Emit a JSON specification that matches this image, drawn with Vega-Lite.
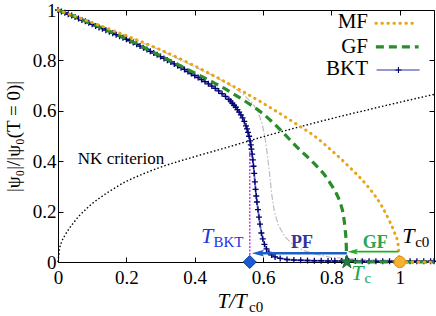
{
  "$schema": "https://vega.github.io/schema/vega-lite/v6.json",
  "width": 376,
  "height": 252,
  "autosize": {"type": "none"},
  "padding": {"left": 58, "top": 10, "right": 2, "bottom": 54},
  "background": "white",
  "config": {
    "view": {"stroke": null},
    "font": "Liberation Serif",
    "axis": {
      "grid": false,
      "domainColor": "black",
      "domainWidth": 1,
      "tickColor": "black",
      "tickSize": -5,
      "labelFont": "Liberation Serif",
      "labelFontSize": 19,
      "labelColor": "black",
      "titleFont": "Liberation Serif",
      "titleFontWeight": "normal",
      "titleColor": "black"
    }
  },
  "resolve": {"axis": {"x": "independent", "y": "independent"}},
  "layer": [
    {
      "data": {"values": [
        {"t": 0, "v": 1.0}, {"t": 0.1, "v": 0.95}, {"t": 0.2, "v": 0.897}, {"t": 0.3, "v": 0.84},
        {"t": 0.4, "v": 0.775}, {"t": 0.45, "v": 0.742}, {"t": 0.5, "v": 0.705}, {"t": 0.54, "v": 0.668},
        {"t": 0.57, "v": 0.628}, {"t": 0.585, "v": 0.595}, {"t": 0.597, "v": 0.55}, {"t": 0.606, "v": 0.49},
        {"t": 0.613, "v": 0.42}, {"t": 0.619, "v": 0.35}, {"t": 0.625, "v": 0.27}, {"t": 0.633, "v": 0.2},
        {"t": 0.645, "v": 0.145}, {"t": 0.664, "v": 0.1}, {"t": 0.69, "v": 0.065}, {"t": 0.72, "v": 0.045},
        {"t": 0.75, "v": 0.032}, {"t": 0.8, "v": 0.018}, {"t": 0.9, "v": 0.009}, {"t": 1.0, "v": 0.006}, {"t": 1.1, "v": 0.005}
      ]},
      "mark": {"type": "line", "color": "#bdbdbd", "strokeWidth": 1.2, "strokeDash": [6, 2, 1.5, 2]},
      "encoding": {
        "x": {"field": "t", "type": "quantitative", "scale": {"domain": [0, 1.1], "nice": false, "zero": false},
          "axis": {"orient": "bottom", "values": [0, 0.2, 0.4, 0.6, 0.8, 1], "format": ".1~f", "title": null, "labelPadding": 11, "labelFlush": false}},
        "y": {"field": "v", "type": "quantitative", "scale": {"domain": [0, 1], "nice": false},
          "axis": {"orient": "left", "values": [0, 0.2, 0.4, 0.6, 0.8, 1], "format": ".1~f", "labelPadding": 7, "labelFlush": false,
            "title": "|ψ₀|/|ψ₀(T = 0)|", "titleFontSize": 19, "titlePadding": 9}}
      }
    },
    {
      "data": {"values": [
        {"t": 0, "v": 0}, {"t": 0.005, "v": 0.055}, {"t": 0.01, "v": 0.078}, {"t": 0.02, "v": 0.105}, {"t": 0.03, "v": 0.127},
        {"t": 0.045, "v": 0.155}, {"t": 0.06, "v": 0.18}, {"t": 0.08, "v": 0.207}, {"t": 0.1, "v": 0.232},
        {"t": 0.125, "v": 0.257}, {"t": 0.15, "v": 0.28}, {"t": 0.2, "v": 0.32}, {"t": 0.25, "v": 0.35},
        {"t": 0.3, "v": 0.376}, {"t": 0.4, "v": 0.418}, {"t": 0.5, "v": 0.457}, {"t": 0.6, "v": 0.497},
        {"t": 0.7, "v": 0.534}, {"t": 0.8, "v": 0.569}, {"t": 0.9, "v": 0.602}, {"t": 1.0, "v": 0.634}, {"t": 1.1, "v": 0.665}
      ]},
      "mark": {"type": "line", "color": "black", "strokeWidth": 1.4, "strokeDash": [1.5, 2.2], "interpolate": "monotone"},
      "encoding": {
        "x": {"field": "t", "type": "quantitative", "scale": {"domain": [0, 1.1], "nice": false, "zero": false},
          "axis": {"orient": "top", "values": [0, 0.2, 0.4, 0.6, 0.8, 1], "labels": false, "title": null}},
        "y": {"field": "v", "type": "quantitative", "scale": {"domain": [0, 1], "nice": false},
          "axis": {"orient": "right", "values": [0, 0.2, 0.4, 0.6, 0.8, 1], "labels": false, "title": null}}
      }
    },
    {
      "data": {"values": [{"t": 0.561, "v0": 0, "v1": 0.488}]},
      "mark": {"type": "rule", "color": "#c040ff", "strokeWidth": 1.5, "strokeDash": [2, 1.5]},
      "encoding": {
        "x": {"field": "t", "type": "quantitative", "scale": {"domain": [0, 1.1], "nice": false, "zero": false}, "axis": null},
        "y": {"field": "v0", "type": "quantitative", "scale": {"domain": [0, 1], "nice": false}, "axis": null},
        "y2": {"field": "v1"}
      }
    },
    {
      "data": {"name": "bkt", "values": [
        {"t": 0.00, "v": 1.000}, {"t": 0.01, "v": 0.994}, {"t": 0.02, "v": 0.989}, {"t": 0.03, "v": 0.983},
        {"t": 0.04, "v": 0.978}, {"t": 0.05, "v": 0.972}, {"t": 0.06, "v": 0.966}, {"t": 0.07, "v": 0.960},
        {"t": 0.08, "v": 0.955}, {"t": 0.09, "v": 0.949}, {"t": 0.10, "v": 0.943}, {"t": 0.11, "v": 0.937},
        {"t": 0.12, "v": 0.931}, {"t": 0.13, "v": 0.926}, {"t": 0.14, "v": 0.920}, {"t": 0.15, "v": 0.914},
        {"t": 0.16, "v": 0.908}, {"t": 0.17, "v": 0.902}, {"t": 0.18, "v": 0.896}, {"t": 0.19, "v": 0.890},
        {"t": 0.20, "v": 0.884}, {"t": 0.21, "v": 0.878}, {"t": 0.22, "v": 0.871}, {"t": 0.23, "v": 0.864},
        {"t": 0.24, "v": 0.857}, {"t": 0.25, "v": 0.850}, {"t": 0.26, "v": 0.843}, {"t": 0.27, "v": 0.836},
        {"t": 0.28, "v": 0.829}, {"t": 0.29, "v": 0.822}, {"t": 0.30, "v": 0.815}, {"t": 0.31, "v": 0.808},
        {"t": 0.32, "v": 0.801}, {"t": 0.33, "v": 0.794}, {"t": 0.34, "v": 0.786}, {"t": 0.35, "v": 0.779},
        {"t": 0.36, "v": 0.771}, {"t": 0.37, "v": 0.764}, {"t": 0.38, "v": 0.756}, {"t": 0.39, "v": 0.748},
        {"t": 0.40, "v": 0.740}, {"t": 0.41, "v": 0.732}, {"t": 0.42, "v": 0.724}, {"t": 0.43, "v": 0.716},
        {"t": 0.44, "v": 0.707}, {"t": 0.45, "v": 0.698}, {"t": 0.46, "v": 0.689}, {"t": 0.47, "v": 0.679},
        {"t": 0.48, "v": 0.668}, {"t": 0.49, "v": 0.657}, {"t": 0.50, "v": 0.645}, {"t": 0.505, "v": 0.638},
        {"t": 0.51, "v": 0.630}, {"t": 0.515, "v": 0.622}, {"t": 0.52, "v": 0.614}, {"t": 0.525, "v": 0.605},
        {"t": 0.53, "v": 0.595}, {"t": 0.535, "v": 0.584}, {"t": 0.54, "v": 0.572}, {"t": 0.545, "v": 0.558},
        {"t": 0.55, "v": 0.540}, {"t": 0.553, "v": 0.528},
        {"t": 0.556, "v": 0.514}, {"t": 0.559, "v": 0.499}, {"t": 0.562, "v": 0.481}, {"t": 0.564, "v": 0.465},
        {"t": 0.566, "v": 0.448}, {"t": 0.568, "v": 0.428},
        {"t": 0.570, "v": 0.405}, {"t": 0.572, "v": 0.380}, {"t": 0.574, "v": 0.352}, {"t": 0.576, "v": 0.318},
        {"t": 0.578, "v": 0.288}, {"t": 0.580, "v": 0.262}, {"t": 0.582, "v": 0.238}, {"t": 0.585, "v": 0.208},
        {"t": 0.588, "v": 0.178}, {"t": 0.591, "v": 0.150}, {"t": 0.595, "v": 0.115}, {"t": 0.599, "v": 0.092},
        {"t": 0.604, "v": 0.070}, {"t": 0.610, "v": 0.052}, {"t": 0.617, "v": 0.038}, {"t": 0.625, "v": 0.028},
        {"t": 0.635, "v": 0.020}, {"t": 0.65, "v": 0.014}, {"t": 0.67, "v": 0.010}, {"t": 0.69, "v": 0.008},
        {"t": 0.71, "v": 0.007}, {"t": 0.73, "v": 0.006}, {"t": 0.75, "v": 0.005}, {"t": 0.77, "v": 0.005},
        {"t": 0.79, "v": 0.004}, {"t": 0.81, "v": 0.004}, {"t": 0.83, "v": 0.004}, {"t": 0.85, "v": 0.004},
        {"t": 0.87, "v": 0.004}, {"t": 0.89, "v": 0.003}, {"t": 0.91, "v": 0.003}, {"t": 0.93, "v": 0.003},
        {"t": 0.95, "v": 0.003}, {"t": 0.97, "v": 0.003}, {"t": 0.99, "v": 0.003}, {"t": 1.01, "v": 0.003},
        {"t": 1.03, "v": 0.003}, {"t": 1.05, "v": 0.003}, {"t": 1.07, "v": 0.003}, {"t": 1.09, "v": 0.003}, {"t": 1.1, "v": 0.003}
      ]},
      "layer": [
        {
          "mark": {"type": "line", "color": "#7474c8", "strokeWidth": 1.8},
          "encoding": {
            "x": {"field": "t", "type": "quantitative", "scale": {"domain": [0, 1.1], "nice": false, "zero": false}, "axis": null},
            "y": {"field": "v", "type": "quantitative", "scale": {"domain": [0, 1], "nice": false}, "axis": null}
          }
        },
        {
          "mark": {"type": "point", "shape": "M-1,0H1M0,-1V1", "filled": false, "color": "#000070", "strokeWidth": 1.3, "size": 36, "opacity": 1},
          "encoding": {
            "x": {"field": "t", "type": "quantitative", "scale": {"domain": [0, 1.1], "nice": false, "zero": false}, "axis": null},
            "y": {"field": "v", "type": "quantitative", "scale": {"domain": [0, 1], "nice": false}, "axis": null}
          }
        }
      ]
    },
    {
      "data": {"values": [
        {"t": 0, "v": 1.0}, {"t": 0.1, "v": 0.945}, {"t": 0.2, "v": 0.886}, {"t": 0.3, "v": 0.818},
        {"t": 0.4, "v": 0.75}, {"t": 0.45, "v": 0.716}, {"t": 0.5, "v": 0.678}, {"t": 0.55, "v": 0.636},
        {"t": 0.6, "v": 0.588}, {"t": 0.65, "v": 0.525}, {"t": 0.7, "v": 0.455}, {"t": 0.75, "v": 0.39},
        {"t": 0.78, "v": 0.345}, {"t": 0.8, "v": 0.305}, {"t": 0.815, "v": 0.27}, {"t": 0.827, "v": 0.23},
        {"t": 0.835, "v": 0.185}, {"t": 0.84, "v": 0.13}, {"t": 0.843, "v": 0.08}, {"t": 0.845, "v": 0.0},
        {"t": 0.9, "v": 0.0}, {"t": 1.0, "v": 0.0}, {"t": 1.1, "v": 0.0}
      ]},
      "mark": {"type": "line", "color": "#2a8c2a", "strokeWidth": 3.2, "strokeDash": [8, 5], "interpolate": "monotone"},
      "encoding": {
        "x": {"field": "t", "type": "quantitative", "scale": {"domain": [0, 1.1], "nice": false, "zero": false}, "axis": null},
        "y": {"field": "v", "type": "quantitative", "scale": {"domain": [0, 1], "nice": false}, "axis": null}
      }
    },
    {
      "data": {"values": [
        {"t": 0, "v": 1.0}, {"t": 0.1, "v": 0.95}, {"t": 0.2, "v": 0.898}, {"t": 0.3, "v": 0.842},
        {"t": 0.4, "v": 0.778}, {"t": 0.5, "v": 0.707}, {"t": 0.6, "v": 0.63}, {"t": 0.7, "v": 0.545},
        {"t": 0.75, "v": 0.5}, {"t": 0.8, "v": 0.443}, {"t": 0.85, "v": 0.38}, {"t": 0.9, "v": 0.31},
        {"t": 0.93, "v": 0.258}, {"t": 0.95, "v": 0.215}, {"t": 0.97, "v": 0.162}, {"t": 0.985, "v": 0.115},
        {"t": 0.995, "v": 0.07}, {"t": 1.0, "v": 0.0}, {"t": 1.05, "v": 0.0}, {"t": 1.1, "v": 0.0}
      ]},
      "mark": {"type": "line", "color": "#e8a617", "strokeWidth": 3, "strokeDash": [0.5, 5.5], "strokeCap": "round", "interpolate": "monotone"},
      "encoding": {
        "x": {"field": "t", "type": "quantitative", "scale": {"domain": [0, 1.1], "nice": false, "zero": false}, "axis": null},
        "y": {"field": "v", "type": "quantitative", "scale": {"domain": [0, 1], "nice": false}, "axis": null}
      }
    },
    {
      "data": {"values": [{"t0": 0.585, "t1": 0.845, "v": 0.035}]},
      "mark": {"type": "rule", "color": "#1a5fc4", "strokeWidth": 2.5},
      "encoding": {
        "x": {"field": "t0", "type": "quantitative", "scale": {"domain": [0, 1.1], "nice": false, "zero": false}, "axis": null},
        "x2": {"field": "t1"},
        "y": {"field": "v", "type": "quantitative", "scale": {"domain": [0, 1], "nice": false}, "axis": null}
      }
    },
    {
      "data": {"values": [{"t": 0.585, "v": 0.035}]},
      "mark": {"type": "point", "shape": "M-1,0L1,-0.55L0.6,0L1,0.55Z", "filled": true, "color": "#1a5fc4", "size": 150, "opacity": 1},
      "encoding": {
        "x": {"field": "t", "type": "quantitative", "scale": {"domain": [0, 1.1], "nice": false, "zero": false}, "axis": null},
        "y": {"field": "v", "type": "quantitative", "scale": {"domain": [0, 1], "nice": false}, "axis": null}
      }
    },
    {
      "data": {"values": [{"t0": 0.862, "t1": 0.996, "v": 0.041}]},
      "mark": {"type": "rule", "color": "#22b022", "strokeWidth": 1.8},
      "encoding": {
        "x": {"field": "t0", "type": "quantitative", "scale": {"domain": [0, 1.1], "nice": false, "zero": false}, "axis": null},
        "x2": {"field": "t1"},
        "y": {"field": "v", "type": "quantitative", "scale": {"domain": [0, 1], "nice": false}, "axis": null}
      }
    },
    {
      "data": {"values": [{"t": 0.862, "v": 0.041}]},
      "mark": {"type": "point", "shape": "M-1,0L1,-0.55L0.6,0L1,0.55Z", "filled": true, "color": "#22b022", "size": 110, "opacity": 1},
      "encoding": {
        "x": {"field": "t", "type": "quantitative", "scale": {"domain": [0, 1.1], "nice": false, "zero": false}, "axis": null},
        "y": {"field": "v", "type": "quantitative", "scale": {"domain": [0, 1], "nice": false}, "axis": null}
      }
    },
    {
      "data": {"values": [{"t": 0.561, "v": 0}]},
      "mark": {"type": "point", "shape": "diamond", "filled": true, "fill": "#1b5ad0", "stroke": "#0c3c9c", "strokeWidth": 1, "size": 170, "opacity": 1},
      "encoding": {
        "x": {"field": "t", "type": "quantitative", "scale": {"domain": [0, 1.1], "nice": false, "zero": false}, "axis": null},
        "y": {"field": "v", "type": "quantitative", "scale": {"domain": [0, 1], "nice": false}, "axis": null}
      }
    },
    {
      "data": {"values": [{"t": 0.845, "v": 0}]},
      "mark": {"type": "point", "shape": "M0,-1L0.225,-0.309L0.951,-0.309L0.363,0.118L0.588,0.809L0,0.382L-0.588,0.809L-0.363,0.118L-0.951,-0.309L-0.225,-0.309Z", "filled": true, "fill": "#1e8040", "stroke": "#0f5a28", "strokeWidth": 0.8, "size": 200, "opacity": 1},
      "encoding": {
        "x": {"field": "t", "type": "quantitative", "scale": {"domain": [0, 1.1], "nice": false, "zero": false}, "axis": null},
        "y": {"field": "v", "type": "quantitative", "scale": {"domain": [0, 1], "nice": false}, "axis": null}
      }
    },
    {
      "data": {"values": [{"t": 1.0, "v": 0}]},
      "mark": {"type": "point", "shape": "circle", "filled": true, "fill": "#f2b232", "stroke": "#e88a20", "strokeWidth": 1, "size": 130, "opacity": 1},
      "encoding": {
        "x": {"field": "t", "type": "quantitative", "scale": {"domain": [0, 1.1], "nice": false, "zero": false}, "axis": null},
        "y": {"field": "v", "type": "quantitative", "scale": {"domain": [0, 1], "nice": false}, "axis": null}
      }
    },
    {
      "data": {"values": [{"t0": 0.93, "t1": 1.05, "v": 0.947}]},
      "mark": {"type": "rule", "color": "#e8a617", "strokeWidth": 3, "strokeDash": [0.5, 5.5], "strokeCap": "round"},
      "encoding": {
        "x": {"field": "t0", "type": "quantitative", "scale": {"domain": [0, 1.1], "nice": false, "zero": false}, "axis": null},
        "x2": {"field": "t1"},
        "y": {"field": "v", "type": "quantitative", "scale": {"domain": [0, 1], "nice": false}, "axis": null}
      }
    },
    {
      "data": {"values": [{"t0": 0.93, "t1": 1.055, "v": 0.854}]},
      "mark": {"type": "rule", "color": "#2a8c2a", "strokeWidth": 3.2, "strokeDash": [8, 5]},
      "encoding": {
        "x": {"field": "t0", "type": "quantitative", "scale": {"domain": [0, 1.1], "nice": false, "zero": false}, "axis": null},
        "x2": {"field": "t1"},
        "y": {"field": "v", "type": "quantitative", "scale": {"domain": [0, 1], "nice": false}, "axis": null}
      }
    },
    {
      "data": {"values": [{"t0": 0.932, "t1": 1.058, "v": 0.762}]},
      "mark": {"type": "rule", "color": "#7474c8", "strokeWidth": 1.6},
      "encoding": {
        "x": {"field": "t0", "type": "quantitative", "scale": {"domain": [0, 1.1], "nice": false, "zero": false}, "axis": null},
        "x2": {"field": "t1"},
        "y": {"field": "v", "type": "quantitative", "scale": {"domain": [0, 1], "nice": false}, "axis": null}
      }
    },
    {
      "data": {"values": [{"t": 0.996, "v": 0.762}]},
      "mark": {"type": "point", "shape": "M-1,0H1M0,-1V1", "filled": false, "color": "#000070", "strokeWidth": 1.1, "size": 36, "opacity": 1},
      "encoding": {
        "x": {"field": "t", "type": "quantitative", "scale": {"domain": [0, 1.1], "nice": false, "zero": false}, "axis": null},
        "y": {"field": "v", "type": "quantitative", "scale": {"domain": [0, 1], "nice": false}, "axis": null}
      }
    },
    {
      "data": {"values": [{"t": 0.907, "v": 0.927, "label": "MF"}, {"t": 0.907, "v": 0.83, "label": "GF"}, {"t": 0.907, "v": 0.742, "label": "BKT"}]},
      "mark": {"type": "text", "align": "right", "baseline": "alphabetic", "fontSize": 21, "font": "Liberation Serif", "color": "black"},
      "encoding": {
        "x": {"field": "t", "type": "quantitative", "scale": {"domain": [0, 1.1], "nice": false, "zero": false}, "axis": null},
        "y": {"field": "v", "type": "quantitative", "scale": {"domain": [0, 1], "nice": false}, "axis": null},
        "text": {"field": "label"}
      }
    },
    {
      "data": {"values": [{"t": 0.058, "v": 0.388, "label": "NK criterion"}]},
      "mark": {"type": "text", "align": "left", "baseline": "alphabetic", "fontSize": 17, "font": "Liberation Serif", "color": "black"},
      "encoding": {
        "x": {"field": "t", "type": "quantitative", "scale": {"domain": [0, 1.1], "nice": false, "zero": false}, "axis": null},
        "y": {"field": "v", "type": "quantitative", "scale": {"domain": [0, 1], "nice": false}, "axis": null},
        "text": {"field": "label"}
      }
    },
    {
      "data": {"values": [{"t": 0.714, "v": 0.056, "label": "PF"}]},
      "mark": {"type": "text", "align": "center", "baseline": "alphabetic", "fontSize": 18, "fontWeight": "bold", "font": "Liberation Serif", "color": "#34349c"},
      "encoding": {
        "x": {"field": "t", "type": "quantitative", "scale": {"domain": [0, 1.1], "nice": false, "zero": false}, "axis": null},
        "y": {"field": "v", "type": "quantitative", "scale": {"domain": [0, 1], "nice": false}, "axis": null},
        "text": {"field": "label"}
      }
    },
    {
      "data": {"values": [{"t": 0.928, "v": 0.056, "label": "GF"}]},
      "mark": {"type": "text", "align": "center", "baseline": "alphabetic", "fontSize": 18, "fontWeight": "bold", "font": "Liberation Serif", "color": "#2aa552"},
      "encoding": {
        "x": {"field": "t", "type": "quantitative", "scale": {"domain": [0, 1.1], "nice": false, "zero": false}, "axis": null},
        "y": {"field": "v", "type": "quantitative", "scale": {"domain": [0, 1], "nice": false}, "axis": null},
        "text": {"field": "label"}
      }
    },
    {
      "data": {"values": [{"t": 0.418, "v": 0.075, "label": "T"}]},
      "mark": {"type": "text", "align": "left", "baseline": "alphabetic", "fontSize": 22, "fontStyle": "italic", "font": "Liberation Serif", "color": "#2233dd"},
      "encoding": {
        "x": {"field": "t", "type": "quantitative", "scale": {"domain": [0, 1.1], "nice": false, "zero": false}, "axis": null},
        "y": {"field": "v", "type": "quantitative", "scale": {"domain": [0, 1], "nice": false}, "axis": null},
        "text": {"field": "label"}
      }
    },
    {
      "data": {"values": [{"t": 0.455, "v": 0.058, "label": "BKT"}]},
      "mark": {"type": "text", "align": "left", "baseline": "alphabetic", "fontSize": 15, "font": "Liberation Serif", "color": "#2233dd"},
      "encoding": {
        "x": {"field": "t", "type": "quantitative", "scale": {"domain": [0, 1.1], "nice": false, "zero": false}, "axis": null},
        "y": {"field": "v", "type": "quantitative", "scale": {"domain": [0, 1], "nice": false}, "axis": null},
        "text": {"field": "label"}
      }
    },
    {
      "data": {"values": [{"t": 1.007, "v": 0.077, "label": "T"}]},
      "mark": {"type": "text", "align": "left", "baseline": "alphabetic", "fontSize": 22, "fontStyle": "italic", "font": "Liberation Serif", "color": "black"},
      "encoding": {
        "x": {"field": "t", "type": "quantitative", "scale": {"domain": [0, 1.1], "nice": false, "zero": false}, "axis": null},
        "y": {"field": "v", "type": "quantitative", "scale": {"domain": [0, 1], "nice": false}, "axis": null},
        "text": {"field": "label"}
      }
    },
    {
      "data": {"values": [{"t": 1.045, "v": 0.06, "label": "c0"}]},
      "mark": {"type": "text", "align": "left", "baseline": "alphabetic", "fontSize": 15, "font": "Liberation Serif", "color": "black"},
      "encoding": {
        "x": {"field": "t", "type": "quantitative", "scale": {"domain": [0, 1.1], "nice": false, "zero": false}, "axis": null},
        "y": {"field": "v", "type": "quantitative", "scale": {"domain": [0, 1], "nice": false}, "axis": null},
        "text": {"field": "label"}
      }
    },
    {
      "data": {"values": [{"t": 0.858, "v": -0.071, "label": "T"}]},
      "mark": {"type": "text", "align": "left", "baseline": "alphabetic", "fontSize": 22, "fontStyle": "italic", "font": "Liberation Serif", "color": "#22a552"},
      "encoding": {
        "x": {"field": "t", "type": "quantitative", "scale": {"domain": [0, 1.1], "nice": false, "zero": false}, "axis": null},
        "y": {"field": "v", "type": "quantitative", "scale": {"domain": [0, 1], "nice": false}, "axis": null},
        "text": {"field": "label"}
      }
    },
    {
      "data": {"values": [{"t": 0.897, "v": -0.085, "label": "c"}]},
      "mark": {"type": "text", "align": "left", "baseline": "alphabetic", "fontSize": 15, "font": "Liberation Serif", "color": "#22a552"},
      "encoding": {
        "x": {"field": "t", "type": "quantitative", "scale": {"domain": [0, 1.1], "nice": false, "zero": false}, "axis": null},
        "y": {"field": "v", "type": "quantitative", "scale": {"domain": [0, 1], "nice": false}, "axis": null},
        "text": {"field": "label"}
      }
    },
    {
      "data": {"values": [{"t": 0.552, "v": -0.184, "label": "T/T"}]},
      "mark": {"type": "text", "align": "right", "baseline": "alphabetic", "fontSize": 21, "fontStyle": "italic", "font": "Liberation Serif", "color": "black"},
      "encoding": {
        "x": {"field": "t", "type": "quantitative", "scale": {"domain": [0, 1.1], "nice": false, "zero": false}, "axis": null},
        "y": {"field": "v", "type": "quantitative", "scale": {"domain": [0, 1], "nice": false}, "axis": null},
        "text": {"field": "label"}
      }
    },
    {
      "data": {"values": [{"t": 0.559, "v": -0.198, "label": "c0"}]},
      "mark": {"type": "text", "align": "left", "baseline": "alphabetic", "fontSize": 15, "font": "Liberation Serif", "color": "black"},
      "encoding": {
        "x": {"field": "t", "type": "quantitative", "scale": {"domain": [0, 1.1], "nice": false, "zero": false}, "axis": null},
        "y": {"field": "v", "type": "quantitative", "scale": {"domain": [0, 1], "nice": false}, "axis": null},
        "text": {"field": "label"}
      }
    }
  ]
}
